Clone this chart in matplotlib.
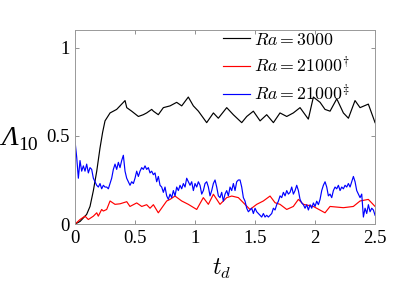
import numpy as np
import matplotlib
matplotlib.use("Agg")
import matplotlib.pyplot as plt

plt.rcParams['font.family'] = ['Liberation Serif', 'DejaVu Serif']
plt.rcParams['mathtext.fontset'] = 'cm'

# Ra = 3000 (black)
t_a = [0.0, 0.042, 0.097, 0.125, 0.153, 0.181, 0.208, 0.23, 0.25, 0.292, 0.347, 0.389, 0.417,
       0.431, 0.472, 0.528, 0.569, 0.597, 0.639, 0.653, 0.694, 0.736, 0.792, 0.847, 0.889,
       0.944, 0.986, 1.028, 1.097, 1.153, 1.194, 1.264, 1.319, 1.389, 1.431, 1.486, 1.542,
       1.597, 1.653, 1.708, 1.764, 1.819, 1.875, 1.944, 1.986, 2.042, 2.083, 2.125, 2.181,
       2.236, 2.278, 2.333, 2.375, 2.444, 2.5]
v_a = [0.0, 0.015, 0.055, 0.10, 0.19, 0.30, 0.43, 0.52, 0.585, 0.63, 0.65, 0.68, 0.70,
       0.66, 0.64, 0.61, 0.62, 0.63, 0.65, 0.64, 0.62, 0.66, 0.67, 0.69, 0.67,
       0.72, 0.67, 0.64, 0.575, 0.63, 0.60, 0.66, 0.62, 0.575, 0.61, 0.64, 0.585,
       0.62, 0.575, 0.63, 0.61, 0.63, 0.66, 0.595, 0.72, 0.69, 0.65, 0.64, 0.71,
       0.63, 0.60, 0.70, 0.66, 0.68, 0.575]

# Ra = 21000 dagger (red)
t_b = [0.0, 0.042, 0.083, 0.111, 0.153, 0.181, 0.194, 0.222, 0.236, 0.264, 0.292, 0.333,
       0.375, 0.431, 0.458, 0.514, 0.556, 0.597, 0.625, 0.653, 0.694, 0.764, 0.792, 0.833,
       0.889, 0.944, 1.014, 1.069, 1.111, 1.153, 1.208, 1.264, 1.306, 1.361, 1.403, 1.458,
       1.514, 1.569, 1.625, 1.667, 1.708, 1.764, 1.819, 1.861, 1.903, 1.986, 2.083, 2.125,
       2.236, 2.319, 2.375, 2.444, 2.5]
v_b = [0.0, 0.026, 0.045, 0.026, 0.045, 0.064, 0.045, 0.083, 0.074, 0.083, 0.131, 0.112,
       0.115, 0.127, 0.10, 0.12, 0.10, 0.11, 0.09, 0.11, 0.064, 0.131, 0.14, 0.159,
       0.131, 0.112, 0.083, 0.15, 0.112, 0.169, 0.112, 0.15, 0.159, 0.15, 0.121, 0.083,
       0.112, 0.131, 0.159, 0.121, 0.112, 0.083, 0.10, 0.14, 0.112, 0.10, 0.064, 0.10,
       0.093, 0.10, 0.131, 0.14, 0.10]

# Ra = 21000 double dagger (blue), sampled uniformly over 0..2.5
v_c = [0.47, 0.38, 0.26, 0.36, 0.30, 0.33, 0.30, 0.34, 0.29, 0.32, 0.31, 0.26, 0.24, 0.22,
       0.21, 0.23, 0.20, 0.22, 0.21, 0.21, 0.20, 0.23, 0.26, 0.31, 0.34, 0.31, 0.35, 0.32,
       0.36, 0.39, 0.30, 0.26, 0.24, 0.22, 0.24, 0.23, 0.26, 0.30, 0.27, 0.30, 0.32, 0.31,
       0.33, 0.31, 0.32, 0.29, 0.30, 0.28, 0.29, 0.24, 0.27, 0.22, 0.21, 0.18, 0.21, 0.16,
       0.14, 0.17, 0.15, 0.19, 0.16, 0.21, 0.19, 0.22, 0.20, 0.23, 0.21, 0.26, 0.24, 0.22,
       0.24, 0.19, 0.23, 0.21, 0.24, 0.22, 0.17, 0.19, 0.23, 0.24, 0.21, 0.16, 0.19, 0.23,
       0.25, 0.21, 0.16, 0.15, 0.18, 0.13, 0.17, 0.19, 0.16, 0.21, 0.19, 0.23, 0.19, 0.24,
       0.25, 0.25, 0.21, 0.15, 0.13, 0.09, 0.07, 0.08, 0.09, 0.06, 0.09, 0.07, 0.06, 0.05,
       0.04, 0.06, 0.04, 0.05, 0.04, 0.05, 0.06, 0.09, 0.08, 0.11, 0.13, 0.16, 0.15, 0.18,
       0.16, 0.19, 0.17, 0.18, 0.21, 0.17, 0.19, 0.22, 0.19, 0.14, 0.12, 0.11, 0.09, 0.11,
       0.08, 0.11, 0.09, 0.12, 0.10, 0.13, 0.11, 0.14, 0.19, 0.22, 0.24, 0.21, 0.16, 0.17,
       0.15, 0.19, 0.21, 0.20, 0.22, 0.19, 0.21, 0.20, 0.22, 0.21, 0.23, 0.21, 0.24, 0.27,
       0.24, 0.19, 0.17, 0.15, 0.17, 0.04, 0.09, 0.06, 0.11, 0.07, 0.09, 0.08, 0.05]
t_c = np.linspace(0, 2.5, len(v_c))

labels = [r'$Ra = 3000$', r'$Ra = 21000^{\dagger}$', r'$Ra = 21000^{\ddagger}$']
xticks = [0, 0.5, 1, 1.5, 2, 2.5]
xtick_labels = ['0', '0.5', '1', '1.5', '2', '2.5']
yticks = [0, 0.5, 1]
ytick_labels = ['0', '0.5', '1']

fig = plt.figure(figsize=(3.99, 3.0), dpi=100)
ax = fig.add_axes([0.188, 0.253, 0.752, 0.647])

ax.plot(t_a, v_a, color='black', lw=0.85, label=labels[0])
ax.plot(t_b, v_b, color='red', lw=0.85, label=labels[1])
ax.plot(t_c, v_c, color='blue', lw=0.85, label=labels[2])

ax.set_xlim(0, 2.5)
ax.set_ylim(0, 1.1)
ax.set_xticks(xticks)
ax.set_xticklabels(xtick_labels)
ax.set_yticks(yticks)
ax.set_yticklabels(ytick_labels)
ax.tick_params(direction='in', length=3, width=0.6, color='#808080',
               top=True, right=True, labelsize=13.5, pad=4)
for s in ax.spines.values():
    s.set_color('#999999')
    s.set_linewidth(0.7)

ax.set_xlabel(r'$t_d$', fontsize=17)
ax.xaxis.set_label_coords(0.49, -0.17)

# y label: italic capital Lambda with subscript 10
lam = ax.text(-0.19, 0.405, 'Λ', transform=ax.transAxes, ha='right', va='baseline',
              fontsize=20, fontstyle='italic', family='Liberation Serif')
ax.annotate('10', xy=(1, 0), xycoords=lam, xytext=(0.5, -1.5), textcoords='offset points',
            ha='left', va='bottom', fontsize=14, family='Liberation Serif')

leg = ax.legend(loc='upper left', bbox_to_anchor=(0.481, 1.01), frameon=False, fontsize=12.8,
                handlelength=1.55, handletextpad=0.2, labelspacing=0.42,
                borderaxespad=0.0, borderpad=0.2)

fig.savefig('out.png', dpi=100)
